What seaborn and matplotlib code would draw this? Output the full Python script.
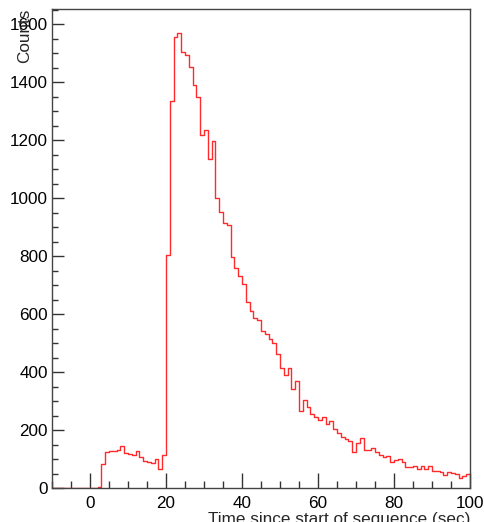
import numpy as np
import pandas as pd
import matplotlib
matplotlib.use('Agg')
import matplotlib.pyplot as plt
from matplotlib.ticker import MultipleLocator
import seaborn as sns

# 1 s bins, first bin starts at -10 s
bin_start = -10
bin_width = 1

# counts per bin, t = -10 .. 19
pre_counts = [0] * 12 + [5, 82, 125, 126, 127, 131, 145, 120, 117, 115,
                         126, 108, 93, 88, 86, 100, 64, 114]
# t = 20 .. 59
burst_counts = [803, 1335, 1556, 1570, 1504, 1495, 1453, 1390, 1349, 1217,
                1234, 1133, 1198, 999, 951, 914, 906, 798, 760, 732,
                704, 640, 610, 587, 581, 542, 531, 515, 501, 462,
                413, 390, 415, 342, 370, 267, 303, 281, 254, 244]
# t = 60 .. 99
tail_counts = [233, 246, 221, 230, 204, 189, 177, 168, 162, 125,
               154, 173, 131, 131, 137, 123, 114, 106, 111, 91,
               97, 100, 91, 71, 72, 77, 64, 76, 65, 77,
               60, 60, 56, 45, 54, 52, 50, 36, 42, 48]

counts = pre_counts + burst_counts + tail_counts
bin_end = bin_start + bin_width * len(counts)
df = pd.DataFrame({
    'time': bin_start + bin_width * (np.arange(len(counts)) + 0.5),
    'counts': counts,
})

sns.set_theme(style='white')
plt.rcParams['font.family'] = ['Liberation Sans', 'DejaVu Sans']

fig = plt.figure(figsize=(4.85, 5.22), dpi=100)
ax = fig.add_axes([52 / 485, 1 - 488 / 522, 418 / 485, 479 / 522])

# black histogram underneath, red one drawn over it
for colour, lw in [('black', 0.5), ('#ff2a2a', 1.0)]:
    sns.histplot(data=df, x='time', weights='counts',
                 binwidth=bin_width, binrange=(bin_start, bin_end),
                 element='step', fill=False, color=colour, linewidth=lw, ax=ax)

ax.set_xlim(-10, 100)
ax.set_ylim(0, 1652)

ax.xaxis.set_major_locator(MultipleLocator(20))
ax.xaxis.set_minor_locator(MultipleLocator(5))
ax.yaxis.set_major_locator(MultipleLocator(200))
ax.yaxis.set_minor_locator(MultipleLocator(50))

ax.tick_params(axis='both', which='both', direction='in', color='#333333',
               width=1, labelsize=12.3, labelcolor='black',
               bottom=True, left=True, top=False, right=False)
ax.tick_params(axis='x', which='major', length=10.8, pad=6)
ax.tick_params(axis='x', which='minor', length=5)
ax.tick_params(axis='y', which='major', length=8.5, pad=3)
ax.tick_params(axis='y', which='minor', length=4)

for side in ['top', 'right', 'bottom', 'left']:
    ax.spines[side].set_visible(True)
    ax.spines[side].set_color('#444444')
    ax.spines[side].set_linewidth(1)

ax.set_xlabel('Time since start of sequence (sec)', fontsize=12.3, loc='right')
ax.xaxis.set_label_coords(1.0, -0.05)
ax.set_ylabel('Counts', fontsize=12.3, loc='top')
ax.yaxis.set_label_coords(-0.048, 1.0)

fig.savefig('out.png', dpi=100)
plt.close(fig)
